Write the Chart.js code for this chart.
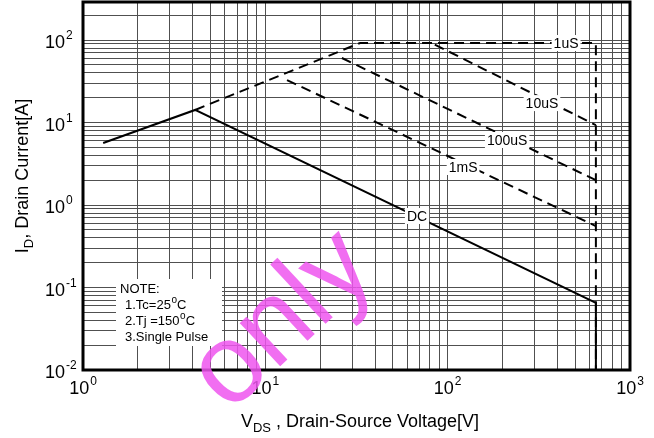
<!DOCTYPE html>
<html>
<head>
<meta charset="utf-8">
<script src="https://cdn.jsdelivr.net/npm/chart.js@4.4.1/dist/chart.umd.min.js"></script>
<style>
  html, body { margin: 0; padding: 0; background: #fff; }
</style>
</head>
<body>
<canvas id="soaChart" width="654" height="438"></canvas>
<script>
// SOA curves, VDS [V] vs ID [A]
var dcV = [1.29, 4.12, 650, 650];
var dcI = [5.64, 14.2, 0.065, 0.01];
var us1V = [4.12, 33.1, 650, 650];
var us1I = [14.2, 92, 92, 0.01];
var us10V = [85, 650];
var us10I = [88, 9.3];
var us100V = [26.3, 650];
var us100I = [60.5, 2.0];
var ms1V = [13.15, 650];
var ms1I = [32.7, 0.556];

// curve labels placed on the curves
var curveNames = ['1uS', '10uS', '100uS', '1mS', 'DC'];
var labelV = [446, 329, 212, 121.5, 67.9];
var labelI = [92, 17.2, 6.14, 2.89, 0.736];

var xDecades = [0, 1, 2, 3];
var yDecades = [-2, -1, 0, 1, 2];
var noteLines = ['NOTE:', '1.Tc=25|o|C', '2.Tj =150|o|C', '3.Single Pulse'];

var FONT = '"Liberation Sans", Arial, sans-serif';

function pts(xs, ys) {
    return xs.map(function (v, i) { return { x: v, y: ys[i] }; });
}

function gridValues(decades, maxVal) {
    var vals = [];
    for (var e = decades[0]; e <= decades[decades.length - 1]; e++) {
        for (var m = 1; m < 10; m++) {
            var v = m * Math.pow(10, e);
            if (v <= maxVal * 1.0001) vals.push(v);
        }
    }
    return vals;
}

function drawPow(c, exp, x, y, align) {
    var base = '10', sup = String(exp);
    c.font = '18px ' + FONT;
    var wb = c.measureText(base).width;
    c.font = '12px ' + FONT;
    var ws = c.measureText(sup).width;
    var x0 = align === 'center' ? x - (wb + ws + 1) / 2 : x;
    c.textAlign = 'left';
    c.textBaseline = 'alphabetic';
    c.font = '18px ' + FONT;
    c.fillText(base, x0, y);
    c.font = '12px ' + FONT;
    c.fillText(sup, x0 + wb + 1, y - 9);
}

function drawSubText(c, parts, x, y) {
    // parts: [text, isSub]
    var total = 0;
    parts.forEach(function (p) {
        c.font = (p[1] ? '13px ' : '18px ') + FONT;
        total += c.measureText(p[0]).width;
    });
    var cx = x - total / 2;
    parts.forEach(function (p) {
        c.font = (p[1] ? '13px ' : '18px ') + FONT;
        c.fillText(p[0], cx, p[1] ? y + 5 : y);
        cx += c.measureText(p[0]).width;
    });
}

var yMax = 289;
var xGrid = gridValues(xDecades, 1000);
var yGrid = gridValues(yDecades, yMax);

var soaPlugin = {
    id: 'soaDecor',
    afterDatasetsDraw: function (chart) {
        var c = chart.ctx, xs = chart.scales.x, ys = chart.scales.y;
        c.save();
        // curve labels with white boxes
        c.font = '14px ' + FONT;
        c.textAlign = 'center';
        c.textBaseline = 'middle';
        curveNames.forEach(function (name, i) {
            var px = xs.getPixelForValue(labelV[i]);
            var py = ys.getPixelForValue(labelI[i]);
            var w = c.measureText(name).width;
            c.fillStyle = '#fff';
            c.fillRect(px - w / 2 - 2, py - 8, w + 4, 16);
            c.fillStyle = '#000';
            c.fillText(name, px, py + 1);
        });
        // note box
        var a = chart.chartArea;
        var bx = a.left + 33, by = 279;
        c.fillStyle = '#fff';
        c.fillRect(bx, by, 106, 67);
        c.fillStyle = '#000';
        c.textAlign = 'left';
        c.textBaseline = 'alphabetic';
        noteLines.forEach(function (line, i) {
            var tx = i === 0 ? bx + 4 : bx + 9;
            var ty = 293 + i * 16;
            line.split('|').forEach(function (seg, k) {
                var sup = k === 1;
                c.font = (sup ? '10px ' : '13px ') + FONT;
                c.fillText(seg, tx, sup ? ty - 6 : ty);
                tx += c.measureText(seg).width + (sup ? 0 : 0.5);
            });
        });
        c.restore();
    },
    afterDraw: function (chart) {
        var c = chart.ctx, xs = chart.scales.x, ys = chart.scales.y;
        var a = chart.chartArea;
        c.save();
        // frame
        c.strokeStyle = '#000';
        c.lineWidth = 3;
        c.strokeRect(a.left, a.top, a.right - a.left, a.bottom - a.top);
        // tick labels
        c.fillStyle = '#000';
        yDecades.forEach(function (e) {
            drawPow(c, e, 45, ys.getPixelForValue(Math.pow(10, e)) + 8, 'left');
        });
        xDecades.forEach(function (e) {
            drawPow(c, e, xs.getPixelForValue(Math.pow(10, e)), 394, 'center');
        });
        // axis titles
        drawSubText(c, [['V', false], ['DS', true], [' , Drain-Source Voltage[V]', false]], 360, 427);
        c.save();
        c.translate(28, 176);
        c.rotate(-Math.PI / 2);
        drawSubText(c, [['I', false], ['D', true], [', Drain Current[A]', false]], 0, 0);
        c.restore();
        // watermark
        c.save();
        c.translate(229, 414);
        c.rotate(-43 * Math.PI / 180);
        c.font = '112px ' + FONT;
        c.fillStyle = 'rgba(238, 85, 238, 0.85)';
        c.textAlign = 'left';
        c.textBaseline = 'alphabetic';
        c.fillText('only', 0, 0);
        c.restore();
        c.restore();
    }
};

function lineSet(xs, ys, dashed) {
    return {
        data: pts(xs, ys),
        borderColor: '#000',
        borderWidth: 2,
        borderDash: dashed ? [10, 6] : [],
        pointRadius: 0,
        fill: false,
        tension: 0
    };
}

var soaChart = new Chart(document.getElementById('soaChart').getContext('2d'), {
    type: 'line',
    data: {
        datasets: [
            lineSet(dcV, dcI, false),
            lineSet(us1V, us1I, true),
            lineSet(us10V, us10I, true),
            lineSet(us100V, us100I, true),
            lineSet(ms1V, ms1I, true)
        ]
    },
    options: {
        responsive: false,
        animation: false,
        layout: { padding: { left: 83, right: 24, top: 2, bottom: 68 } },
        plugins: { legend: { display: false }, tooltip: { enabled: false } },
        scales: {
            x: {
                type: 'logarithmic',
                min: 1,
                max: 1000,
                afterBuildTicks: function (s) { s.ticks = xGrid.map(function (v) { return { value: v }; }); },
                afterFit: function (s) { s.height = 0; },
                ticks: { display: false },
                grid: { color: '#505050', lineWidth: 1, drawTicks: false },
                border: { display: false }
            },
            y: {
                type: 'logarithmic',
                min: 0.01,
                max: yMax,
                afterBuildTicks: function (s) { s.ticks = yGrid.map(function (v) { return { value: v }; }); },
                afterFit: function (s) { s.width = 0; },
                ticks: { display: false },
                grid: { color: '#505050', lineWidth: 1, drawTicks: false },
                border: { display: false }
            }
        }
    },
    plugins: [soaPlugin]
});
</script>
</body>
</html>
